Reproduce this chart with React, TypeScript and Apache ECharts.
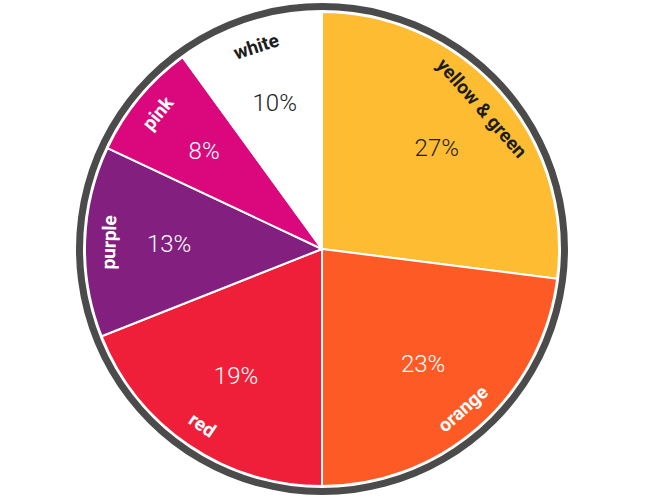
import React, { useEffect, useRef } from 'react';
import * as echarts from 'echarts';

const names = ['yellow & green', 'orange', 'red', 'purple', 'pink', 'white'];
const shares = [27, 23, 19, 13, 8, 10];
const sliceColors = ['#FDBC32', '#FD5A25', '#EF1F3A', '#83207F', '#DA077D', '#FFFFFF'];
const textColors = ['#1c1c1c', '#ffffff', '#ffffff', '#ffffff', '#ffffff', '#1c1c1c'];

const CENTER = [322, 249];

export default function App() {
  const chartRef = useRef<HTMLDivElement>(null);

  useEffect(() => {
    const chart = echarts.init(chartRef.current, null, { renderer: 'svg' });

    const clear = { color: 'transparent', borderWidth: 0 };

    chart.setOption({
      animation: false,
      series: [
        // outer dark rim
        {
          type: 'pie',
          center: CENTER,
          radius: [239, 246],
          silent: true,
          label: { show: false },
          labelLine: { show: false },
          itemStyle: { color: '#4b4b4b' },
          data: [{ value: 1, name: 'rim' }]
        },
        // slices
        {
          type: 'pie',
          center: CENTER,
          radius: [0, 237],
          startAngle: 90,
          silent: true,
          label: { show: false },
          labelLine: { show: false },
          itemStyle: { borderColor: '#ffffff', borderWidth: 2 },
          data: names.map((n, i) => ({
            name: n,
            value: shares[i],
            itemStyle: { color: sliceColors[i] }
          }))
        },
        // percent labels
        {
          type: 'pie',
          center: CENTER,
          radius: [64, 236],
          startAngle: 90,
          silent: true,
          labelLine: { show: false },
          itemStyle: clear,
          label: {
            show: true,
            position: 'inside',
            formatter: '{c}%',
            fontFamily: 'Roboto',
            fontWeight: 300,
            fontSize: 24
          },
          data: names.map((n, i) => ({
            name: n,
            value: shares[i],
            label: { color: textColors[i] }
          }))
        },
        // category names along the rim
        {
          type: 'pie',
          center: CENTER,
          radius: [186, 234],
          startAngle: 90,
          silent: true,
          labelLine: { show: false },
          itemStyle: clear,
          label: {
            show: true,
            position: 'inside',
            rotate: 'tangential',
            formatter: '{b}',
            fontFamily: 'Roboto',
            fontWeight: 'bold',
            fontSize: 19
          },
          data: names.map((n, i) => ({
            name: n,
            value: shares[i],
            label: { color: textColors[i] }
          }))
        }
      ]
    });

    return () => chart.dispose();
  }, []);

  return (
    <div
      ref={chartRef}
      style={{ position: 'absolute', left: 0, top: 0, width: '650px', height: '500px' }}
    />
  );
}
